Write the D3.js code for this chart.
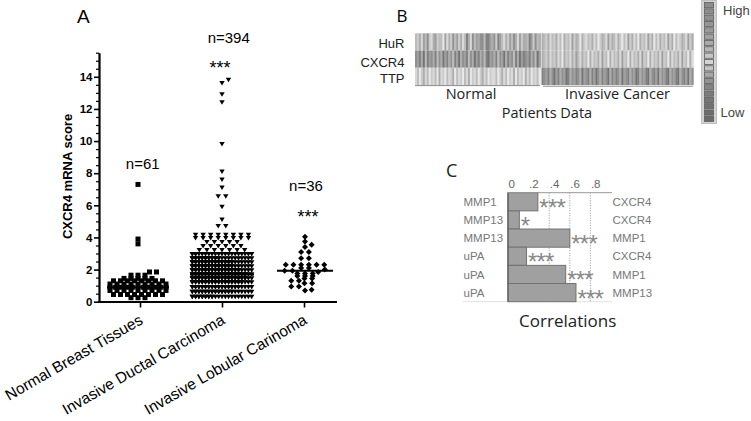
<!DOCTYPE html>
<html><head><meta charset="utf-8">
<script src="https://cdn.jsdelivr.net/npm/d3@7"></script>
<style>
html,body{margin:0;padding:0;background:#fff;}
svg{display:block;}
text{font-family:"Liberation Sans",Arial,sans-serif;}
.os{font-family:"Open Sans","Liberation Sans",sans-serif;}
</style></head><body>
<svg id="c" width="751" height="421"></svg>
<script>
// ---------------- Panel A data ----------------
const categories = ["Normal Breast Tissues","Invasive Ductal Carcinoma","Invasive Lobular Carinoma"];
const countLabels = ["n=61","n=394","n=36"];
const sigLabels = ["","***","***"];
const yTicks = [0,2,4,6,8,10,12,14];

const normalValues = [
7.3,3.9,3.6,1.85,1.85,1.65,1.65,1.65,
1.45,1.45,1.45,1.45,1.45,
1.3,1.3,1.3,1.3,1.3,1.3,1.3,1.3,
1.1,1.1,1.1,1.1,1.1,1.1,1.1,1.1,1.1,
0.9,0.9,0.9,0.9,0.9,0.9,0.9,0.9,0.9,0.9,0.9,
0.7,0.7,0.7,0.7,0.7,0.7,0.7,0.7,0.7,
0.45,0.45,0.45,0.45,0.45,0.45,0.45,0.45,
0.25,0.25,0.25];

const idcValues = [
13.8,13.6,12.9,12.4,9.8,8.1,7.6,7.1,6.55,6.55,5.9,5.1,4.7,4.7,
4.15,4.15,4.15,4.15,4.15,4.15,4.15,4.15,
3.95,3.95,3.95,3.95,3.95,3.95,3.95,3.95,
3.7,3.7,3.7,3.7,3.7,
3.45,3.45,3.45,3.45,3.45,3.45,
3.2,3.2,3.2,3.2,3.2,3.2,3.2,
2.95,2.95,2.95,2.95,2.95,2.95,2.95,2.95,2.95,2.95,
2.95,2.95,2.95,2.95,2.95,2.95,2.95,2.95,2.95,2.95,
2.95,
2.7,2.7,2.7,2.7,2.7,2.7,2.7,2.7,2.7,2.7,
2.7,2.7,2.7,2.7,2.7,2.7,2.7,2.7,2.7,2.7,
2.7,2.7,2.7,2.7,2.7,2.7,2.7,2.7,
2.45,2.45,2.45,2.45,2.45,2.45,2.45,2.45,2.45,2.45,
2.45,2.45,2.45,2.45,2.45,2.45,2.45,2.45,2.45,2.45,
2.45,2.45,2.45,2.45,2.45,2.45,2.45,2.45,2.45,2.45,
2.45,2.45,
2.2,2.2,2.2,2.2,2.2,2.2,2.2,2.2,2.2,2.2,
2.2,2.2,2.2,2.2,2.2,2.2,2.2,2.2,2.2,2.2,
2.2,2.2,2.2,2.2,2.2,2.2,2.2,2.2,2.2,2.2,
2.2,2.2,
1.95,1.95,1.95,1.95,1.95,1.95,1.95,1.95,1.95,1.95,
1.95,1.95,1.95,1.95,1.95,1.95,1.95,1.95,1.95,1.95,
1.95,1.95,1.95,1.95,1.95,1.95,1.95,1.95,1.95,1.95,
1.95,1.95,1.95,1.95,
1.7,1.7,1.7,1.7,1.7,1.7,1.7,1.7,1.7,1.7,
1.7,1.7,1.7,1.7,1.7,1.7,1.7,1.7,1.7,1.7,
1.7,1.7,1.7,1.7,1.7,1.7,1.7,1.7,1.7,1.7,
1.7,1.7,1.7,1.7,1.7,1.7,
1.45,1.45,1.45,1.45,1.45,1.45,1.45,1.45,1.45,1.45,
1.45,1.45,1.45,1.45,1.45,1.45,1.45,1.45,1.45,1.45,
1.45,1.45,1.45,1.45,1.45,1.45,1.45,1.45,1.45,1.45,
1.45,1.45,1.45,1.45,1.45,1.45,
1.2,1.2,1.2,1.2,1.2,1.2,1.2,1.2,1.2,1.2,
1.2,1.2,1.2,1.2,1.2,1.2,1.2,1.2,1.2,1.2,
1.2,1.2,1.2,1.2,1.2,1.2,1.2,1.2,1.2,1.2,
1.2,1.2,1.2,1.2,1.2,
0.9,0.9,0.9,0.9,0.9,0.9,0.9,0.9,0.9,0.9,
0.9,0.9,0.9,0.9,0.9,0.9,0.9,0.9,0.9,0.9,
0.9,0.9,0.9,0.9,0.9,0.9,0.9,0.9,0.9,0.9,
0.9,0.9,0.9,0.9,
0.6,0.6,0.6,0.6,0.6,0.6,0.6,0.6,0.6,0.6,
0.6,0.6,0.6,0.6,0.6,0.6,0.6,0.6,0.6,0.6,
0.6,0.6,0.6,0.6,0.6,0.6,0.6,0.6,0.6,0.6,
0.6,0.6,
0.3,0.3,0.3,0.3,0.3,0.3,0.3,0.3,0.3,0.3,
0.3,0.3,0.3,0.3,0.3,0.3,0.3,0.3,0.3,0.3,
0.3,0.3,0.3,0.3,0.3,0.3];

const ilcValues = [
4.05,3.75,3.55,3.4,3.1,3.1,2.7,2.7,
2.3,2.3,2.3,2.3,2.3,2.3,2.1,2.1,2.0,1.92,1.92,1.85,
1.75,1.75,1.75,1.6,1.6,1.6,1.45,1.45,1.3,1.3,
1.15,1.15,0.95,0.95,0.75,0.7];

// ---------------- Panel B data ----------------
const heatRowNames = ["HuR","CXCR4","TTP"];
const heatGroupNames = ["Normal","Invasive Cancer"];
// gray levels 0 (dark) .. 9 (light), one digit per patient column
const heatNormal = [
"6758463785476694857364758625836453362245372468574635847556247365",
"3425162435263514253624153426351425362143526341524362514234253614",
"8697586978695879687596879685978697586978869758697859687958697869"];
const heatInvasive = [
"5675867586957684756957867586975684756857968475869576847596857684759687568475",
"5675867586957685746857695867584769586758476958675847695867584769586758476958",
"2342531425341253423514325241352431524235143253412534215324153421534215324153"];
const legendLevels = [140,142,145,149,154,161,170,182,198,212,196,168,146,133,124,118,113,109,106];
const legendLabels = ["High","Low"];

// ---------------- Panel C data ----------------
const corrLeft = ["MMP1","MMP13","MMP13","uPA","uPA","uPA"];
const corrRight = ["CXCR4","CXCR4","MMP1","CXCR4","MMP1","MMP13"];
const corrValues = [0.29,0.11,0.60,0.18,0.56,0.66];
const corrSig = ["***","*","***","***","***","***"];
const corrTicks = [0,0.2,0.4,0.6,0.8];
const corrTickLabels = ["0",".2",".4",".6",".8"];
const corrGrid = [0.4,0.6,0.8];

// =================================================
const svg = d3.select("#c");

// ---------- Panel A ----------
const yA = d3.scaleLinear().domain([0,15.5]).range([301.7,52.7]);
const xA = d3.scalePoint().domain(categories).range([140,304]);

svg.append("text").attr("x",77).attr("y",22.7).attr("font-size",19).text("A");

const gy = svg.append("g").attr("transform","translate(99,0)")
  .call(d3.axisLeft(yA).tickValues(yTicks).tickSize(5).tickPadding(1.5).tickSizeOuter(0));
gy.select(".domain").attr("stroke","#000").attr("stroke-width",2.2);
gy.selectAll(".tick line").attr("stroke","#000").attr("stroke-width",1.6);
gy.selectAll(".tick text").attr("font-size",11.5).attr("font-weight","bold")
  .attr("font-family","Liberation Sans, Arial, sans-serif").attr("fill","#000");

const minorVals = d3.range(0,15.51,0.5).filter(v => v % 2 !== 0);
const gm = svg.append("g").attr("transform","translate(99,0)")
  .call(d3.axisLeft(yA).tickValues(minorVals).tickSize(3).tickFormat("").tickSizeOuter(0));
gm.select(".domain").remove();
gm.selectAll(".tick line").attr("stroke","#000").attr("stroke-width",1.2);

svg.append("text").attr("transform","translate(71.5,176.5) rotate(-90)")
  .attr("text-anchor","middle").attr("font-size",13).attr("font-weight","bold")
  .text("CXCR4 mRNA score");

// x axis
svg.append("line").attr("x1",98).attr("x2",337).attr("y1",302).attr("y2",302)
  .attr("stroke","#000").attr("stroke-width",2.2);
const gx = svg.append("g").attr("transform","translate(0,302)")
  .call(d3.axisBottom(xA).tickSize(5.5).tickFormat("").tickSizeOuter(0));
gx.select(".domain").remove();
gx.selectAll(".tick line").attr("stroke","#000").attr("stroke-width",1.6);

categories.forEach(c => {
  svg.append("text").attr("transform",`translate(${xA(c)+4},323) rotate(-30)`)
    .attr("text-anchor","end").attr("font-size",15.5).text(c);
});

// swarm layout
function swarm(values, W, m, sMin){
  const rows = d3.groups(values, v => v).sort((a,b) => a[0]-b[0]);
  const placed = [];
  rows.forEach(([v, arr]) => {
    const n = arr.length, y = yA(v);
    let s = n > 1 ? Math.min(m*1.4, 2*W/(n-1)) : 0;
    let k = n;
    if (n > 1 && s < sMin) { s = sMin; k = Math.floor(2*W/s)+1; }
    const kk = Math.min(n,k);
    const offs = arr.map((_,i) => ((i % k) - (kk-1)/2) * s);
    let c = 0;
    if (n <= 2) {
      const cands = [0];
      for (let j=1;j<=6;j++) cands.push(j*m*0.6, -j*m*0.6);
      for (const cc of cands) {
        const ok = offs.every(o => placed.every(p => !(Math.abs(p.y-y) < m*0.85 && Math.abs(p.dx-(o+cc)) < m*0.85)));
        if (ok) { c = cc; break; }
      }
    }
    offs.forEach(o => placed.push({v, y, dx:o+c}));
  });
  return placed;
}

const groups = [
  {cat:categories[0], vals:normalValues, W:28, m:5, sMin:3, half:31, path:"M-2.5,-2.5h5v5h-5Z"},
  {cat:categories[1], vals:idcValues, W:30, m:5.4, sMin:3.3, half:32, path:"M-2.7,-2.2L2.7,-2.2L0,2.3Z"},
  {cat:categories[2], vals:ilcValues, W:20, m:5.5, sMin:3, half:28, path:"M0,-3L3,0L0,3L-3,0Z"}
];
groups.forEach((g,gi) => {
  const cx = xA(g.cat) + (gi===0 ? -2 : 0) + (gi===2 ? 1 : 0);
  const pts = swarm(g.vals, g.W, g.m, g.sMin);
  svg.append("g").selectAll("path").data(pts).join("path")
    .attr("d", g.path)
    .attr("transform", d => `translate(${cx+d.dx},${d.y})`)
    .attr("fill","#000");
  const med = d3.median(g.vals);
  svg.append("line").attr("x1",cx-g.half).attr("x2",cx+g.half)
    .attr("y1",yA(med)).attr("y2",yA(med)).attr("stroke","#000").attr("stroke-width",2);
});

// count labels & significance
const nPos = [{x:142.7,y:169.3},{x:228.7,y:42.7},{x:306,y:190.7}];
categories.forEach((c,i) => {
  svg.append("text").attr("x",nPos[i].x).attr("y",nPos[i].y).attr("text-anchor","middle")
    .attr("font-size",15).text(countLabels[i]);
});
const sPos = [null,{x:220,y:73.5},{x:308,y:222.5}];
categories.forEach((c,i) => {
  if (!sigLabels[i]) return;
  svg.append("text").attr("x",sPos[i].x).attr("y",sPos[i].y).attr("text-anchor","middle")
    .attr("font-size",18).text(sigLabels[i]);
});

// ---------- Panel B ----------
svg.append("text").attr("class","os").attr("x",396.5).attr("y",21.7).attr("font-size",17).text("B");
const rowY = d3.scaleBand().domain(heatRowNames).range([33.3,85]);
const gray = d3.scaleLinear().domain([0,9]).range([100,232]);
const sections = [
  {data:heatNormal, x0:415, x1:540.5},
  {data:heatInvasive, x0:541.5, x1:693.3}
];
sections.forEach(sec => {
  sec.data.forEach((str, ri) => {
    const lv = str.split("").map(Number);
    const cx = d3.scaleBand().domain(d3.range(lv.length)).range([sec.x0, sec.x1]);
    svg.append("g").selectAll("rect").data(lv).join("rect")
      .attr("x",(d,i)=>cx(i)).attr("width",cx.bandwidth()+0.4)
      .attr("y",rowY(heatRowNames[ri])).attr("height",rowY.bandwidth())
      .attr("fill",d=>{const g=Math.round(gray(d));return `rgb(${g},${g},${g})`;});
  });
});
heatRowNames.forEach((r,i) => {
  svg.append("text").attr("x",404.5).attr("y",[47.5,66.7,82.7][i]).attr("text-anchor","end")
    .attr("font-size",13).attr("fill","#222").text(r);
});
svg.append("line").attr("x1",415).attr("x2",540).attr("y1",85.6).attr("y2",85.6).attr("stroke","#8a8a8a");
svg.append("line").attr("x1",543).attr("x2",693).attr("y1",86.2).attr("y2",86.2).attr("stroke","#8a8a8a");
svg.append("text").attr("class","os").attr("x",471).attr("y",99.3).attr("text-anchor","middle")
  .attr("font-size",14.5).attr("fill","#222").text(heatGroupNames[0]);
svg.append("text").attr("class","os").attr("x",617.5).attr("y",99.3).attr("text-anchor","middle")
  .attr("font-size",14.5).attr("fill","#222").text(heatGroupNames[1]);
svg.append("text").attr("class","os").attr("x",547).attr("y",118.3).attr("text-anchor","middle")
  .attr("font-size",14.5).attr("fill","#222").text("Patients Data");

// legend colour bar
svg.append("rect").attr("x",701.5).attr("y",0.5).attr("width",15).attr("height",123)
  .attr("fill","#d2d2d2").attr("stroke","#c0c0c0");
const lgY = d3.scaleBand().domain(d3.range(legendLevels.length)).range([2.5,121.5]).paddingInner(0.18);
svg.append("g").selectAll("rect").data(legendLevels).join("rect")
  .attr("x",704.5).attr("width",9).attr("y",(d,i)=>lgY(i)).attr("height",lgY.bandwidth())
  .attr("fill",d=>`rgb(${d},${d},${d})`).attr("stroke","#5e5e5e").attr("stroke-width",0.8);
svg.append("text").attr("x",723).attr("y",15).attr("font-size",13).attr("fill","#444").text(legendLabels[0]);
svg.append("text").attr("x",720.5).attr("y",116.7).attr("font-size",13).attr("fill","#444").text(legendLabels[1]);

// ---------- Panel C ----------
svg.append("text").attr("class","os").attr("x",446).attr("y",176.7).attr("font-size",18).attr("fill","#222").text("C");
const xC = d3.scaleLinear().domain([0,1]).range([508,611]);
const yC = d3.scaleBand().domain(d3.range(corrValues.length)).range([192.7,301.7]);

svg.append("line").attr("x1",463).attr("x2",612).attr("y1",301.7).attr("y2",301.7).attr("stroke","#e2e2e2");
corrGrid.forEach(v => {
  svg.append("line").attr("x1",xC(v)).attr("x2",xC(v)).attr("y1",192.7).attr("y2",301.7)
    .attr("stroke","#8a8a8a").attr("stroke-dasharray","1,1.5").attr("stroke-width",0.9);
});
svg.append("g").selectAll("rect").data(corrValues).join("rect")
  .attr("x",xC(0)).attr("y",(d,i)=>yC(i)).attr("width",d=>xC(d)-xC(0)).attr("height",yC.bandwidth())
  .attr("fill","#a0a0a0").attr("stroke","#727272").attr("stroke-width",1);
const gc = svg.append("g").attr("transform","translate(0,192.7)")
  .call(d3.axisTop(xC).tickValues(corrTicks).tickFormat((d,i)=>corrTickLabels[i]).tickSize(0).tickPadding(4.5).tickSizeOuter(0));
gc.select(".domain").attr("d","M508,0H612").attr("stroke","#999");
gc.selectAll(".tick text").attr("text-anchor","start").attr("font-size",11.5).attr("fill","#666");
svg.append("line").attr("x1",508).attr("x2",508).attr("y1",192.7).attr("y2",301.7).attr("stroke","#5a5a5a").attr("stroke-width",1.2);

corrValues.forEach((v,i) => {
  const cy = yC(i) + yC.bandwidth()/2;
  svg.append("text").attr("x",463.5).attr("y",cy+4.2).attr("font-size",11.5).attr("fill","#777").text(corrLeft[i]);
  svg.append("text").attr("x",612.5).attr("y",cy+4.2).attr("font-size",11.5).attr("fill","#777").text(corrRight[i]);
  svg.append("text").attr("x",xC(v)+1.5).attr("y",cy+14).attr("font-size",24).attr("fill","#888")
    .attr("letter-spacing",-0.8).text(corrSig[i]);
});
svg.append("text").attr("class","os").attr("x",567.7).attr("y",326.7).attr("text-anchor","middle")
  .attr("font-size",17).attr("fill","#222").text("Correlations");
</script>
</body></html>
